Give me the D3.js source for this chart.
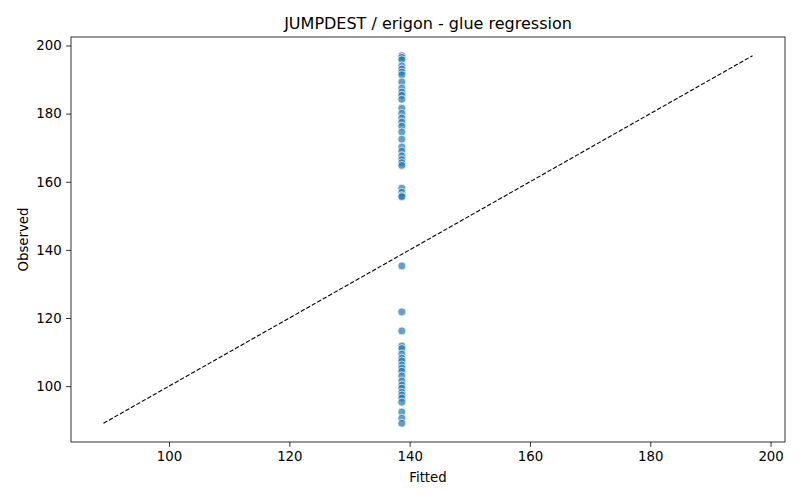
<!DOCTYPE html>
<html>
<head>
<meta charset="utf-8">
<script src="https://cdn.jsdelivr.net/npm/d3@7"></script>
<style>
  body { margin: 0; background: #fff; }
  svg { font-family: "DejaVu Sans", sans-serif; }
</style>
</head>
<body>
<div id="chart"></div>
<script>
const observed = [
  197.0, 196.5, 195.8, 194.0, 193.1, 192.2, 191.4, 189.3, 187.5, 186.3,
  185.4, 184.2, 181.6, 180.1, 178.7, 177.5, 176.3, 174.6, 172.5, 170.2,
  169.0, 167.6, 166.5, 165.6, 164.8, 158.1, 156.9, 155.9, 155.6,
  135.3, 121.8, 116.2, 111.8, 111.0, 109.4, 108.2, 107.4, 106.2, 105.3,
  104.4, 103.0, 101.5, 100.3, 99.4, 98.2, 97.4, 96.5, 95.3, 92.4,
  90.6, 89.1
];
// Fitted values: the model predicts the same value for every point
const fitted = [
  138.7, 138.7, 138.7, 138.7, 138.7, 138.7, 138.7, 138.7, 138.7, 138.7,
  138.7, 138.7, 138.7, 138.7, 138.7, 138.7, 138.7, 138.7, 138.7, 138.7,
  138.7, 138.7, 138.7, 138.7, 138.7, 138.7, 138.7, 138.7, 138.7,
  138.7, 138.7, 138.7, 138.7, 138.7, 138.7, 138.7, 138.7, 138.7, 138.7,
  138.7, 138.7, 138.7, 138.7, 138.7, 138.7, 138.7, 138.7, 138.7, 138.7,
  138.7, 138.7
];
// y = x reference line endpoints
const identityLine = [89.1, 197.0];
const xTicks = [100, 120, 140, 160, 180, 200];
const yTicks = [100, 120, 140, 160, 180, 200];

const W = 800, H = 500;
const margin = { top: 37, right: 15, bottom: 58, left: 71 };
const iw = W - margin.left - margin.right;
const ih = H - margin.top - margin.bottom;

const svg = d3.select('#chart').append('svg')
  .attr('width', W).attr('height', H);

const x = d3.scaleLinear().domain([83.7, 202.4]).range([0, iw]);
const y = d3.scaleLinear().domain([83.6, 202.5]).range([ih, 0]);

const g = svg.append('g').attr('transform', `translate(${margin.left},${margin.top})`);

// Points
const pts = observed.map((o, i) => ({ fx: fitted[i], ob: o }));
g.selectAll('circle.pt')
  .data(pts)
  .enter().append('circle')
  .attr('class', 'pt')
  .attr('cx', d => x(d.fx))
  .attr('cy', d => y(d.ob))
  .attr('r', 4)
  .attr('fill', '#1f77b4')
  .attr('fill-opacity', 0.7)
  .attr('stroke', '#fff')
  .attr('stroke-width', 0.7);

// Dashed identity line
g.append('line')
  .attr('x1', x(identityLine[0])).attr('y1', y(identityLine[0]))
  .attr('x2', x(identityLine[1])).attr('y2', y(identityLine[1]))
  .attr('stroke', '#000')
  .attr('stroke-width', 1.1)
  .attr('stroke-dasharray', '4.4,1.9');

// Axes
const xAxis = g.append('g')
  .attr('transform', `translate(0,${ih})`)
  .call(d3.axisBottom(x).tickValues(xTicks).tickSize(4.9).tickPadding(4.5));
const yAxis = g.append('g')
  .call(d3.axisLeft(y).tickValues(yTicks).tickSize(4.9).tickPadding(4.5));
[xAxis, yAxis].forEach(a => {
  a.select('.domain').remove();
  a.selectAll('text').attr('font-size', '13.3px').attr('fill', '#000')
    .attr('font-family', '"DejaVu Sans", sans-serif');
  a.selectAll('line').attr('stroke', '#000').attr('stroke-width', 0.8);
});

// Frame
g.append('rect')
  .attr('width', iw).attr('height', ih)
  .attr('fill', 'none').attr('stroke', '#000').attr('stroke-width', 0.8);

// Title and labels
svg.append('text')
  .attr('x', margin.left + iw / 2).attr('y', 29)
  .attr('text-anchor', 'middle')
  .attr('font-size', '16px')
  .text('JUMPDEST / erigon - glue regression');

svg.append('text')
  .attr('x', margin.left + iw / 2).attr('y', 482)
  .attr('text-anchor', 'middle')
  .attr('font-size', '13.3px')
  .text('Fitted');

svg.append('text')
  .attr('transform', `translate(28,${margin.top + ih / 2}) rotate(-90)`)
  .attr('text-anchor', 'middle')
  .attr('font-size', '13.3px')
  .text('Observed');
</script>
</body>
</html>
